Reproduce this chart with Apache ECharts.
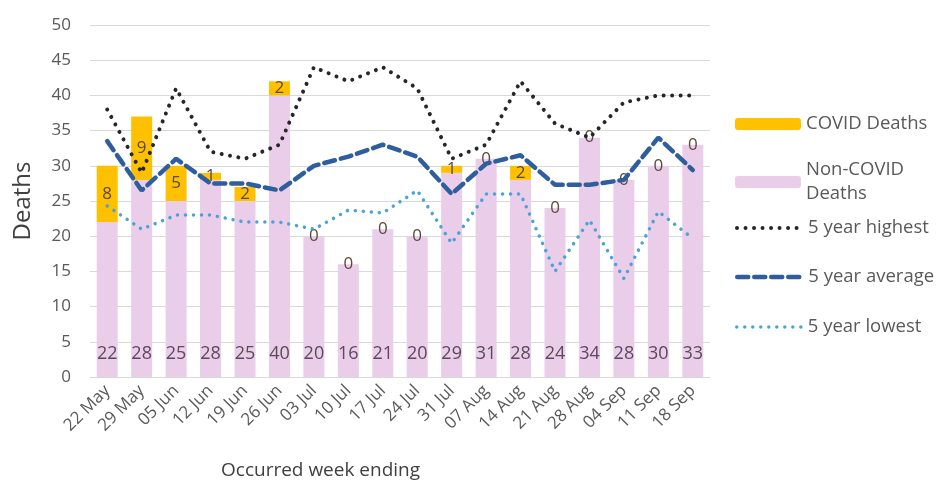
<!DOCTYPE html>
<html>
<head>
<meta charset="utf-8">
<script src="https://cdn.jsdelivr.net/npm/echarts@6/dist/echarts.min.js"></script>
<style>
    html, body { margin: 0; padding: 0; background: #fff; }
    #chart { width: 940px; height: 492px; }
</style>
</head>
<body>
<div id="chart"></div>
<script>
var weeks = ['22 May', '29 May', '05 Jun', '12 Jun', '19 Jun', '26 Jun', '03 Jul', '10 Jul', '17 Jul',
    '24 Jul', '31 Jul', '07 Aug', '14 Aug', '21 Aug', '28 Aug', '04 Sep', '11 Sep', '18 Sep'];
var covidDeaths = [8, 9, 5, 1, 2, 2, 0, 0, 0, 0, 1, 0, 2, 0, 0, 0, 0, 0];
var nonCovidDeaths = [22, 28, 25, 28, 25, 40, 20, 16, 21, 20, 29, 31, 28, 24, 34, 28, 30, 33];
var highest5y = [38, 29, 41, 32, 31, 33, 44, 42, 44, 41, 31, 33, 42, 36, 34, 39, 40, 40];
var average5y = [33.5, 26.5, 31, 27.5, 27.5, 26.5, 30, 31.3, 33, 31.3, 26, 30.3, 31.5, 27.3, 27.3, 28, 34, 29.4];
var lowest5y = [24.3, 21, 23, 23, 22, 22, 21, 23.7, 23.3, 26.5, 19, 26, 26, 15, 22.3, 14, 23.5, 19.7];

var fontFam = 'Open Sans';
var grey = '#595959';

var highStyle = { color: '#262626', width: 4, type: [0.01, 8.5], cap: 'round' };
var avgStyle = { color: '#2E5E9E', width: 4.5, type: [11, 6], cap: 'round' };
var lowStyle = { color: '#4AA3D6', width: 3.5, type: [0.01, 8], cap: 'round' };

function legendAt(name, top, extra) {
    var l = {
        data: [name],
        left: 735,
        top: top,
        padding: 0,
        orient: 'vertical',
        itemWidth: 66,
        itemHeight: 12,
        textStyle: { color: grey, fontSize: 18.5, fontFamily: fontFam, lineHeight: 24 }
    };
    if (extra) {
        for (var k in extra) l[k] = extra[k];
    }
    return l;
}

var chart = echarts.init(document.getElementById('chart'));
var option = {
    animation: false,
    grid: { left: 90, right: 230, top: 25, bottom: 115 },
    legend: [
        legendAt('COVID Deaths', 112),
        legendAt('Non-COVID Deaths', 146, {
            formatter: function () { return 'Non-COVID\nDeaths'; },
            textStyle: { color: grey, fontSize: 18.5, fontFamily: fontFam, lineHeight: 24, padding: [24, 0, 0, 0] }
        }),
        legendAt('5 year highest', 216, { itemStyle: { opacity: 0 }, lineStyle: highStyle }),
        legendAt('5 year average', 265, { itemStyle: { opacity: 0 }, lineStyle: avgStyle }),
        legendAt('5 year lowest', 315, { itemStyle: { opacity: 0 }, lineStyle: lowStyle })
    ],
    xAxis: {
        type: 'category',
        data: weeks,
        axisLine: { lineStyle: { color: '#d9d9d9' } },
        axisTick: { show: false },
        axisLabel: { rotate: 45, color: grey, fontSize: 17, fontFamily: fontFam, margin: 11, interval: 0 }
    },
    yAxis: {
        type: 'value',
        min: 0,
        max: 50,
        interval: 5,
        name: 'Deaths',
        nameLocation: 'middle',
        nameGap: 55,
        nameTextStyle: { color: '#404040', fontSize: 24, fontFamily: fontFam },
        axisLine: { show: false },
        axisTick: { show: false },
        axisLabel: { color: grey, fontSize: 17, fontFamily: fontFam, margin: 19 },
        splitLine: { lineStyle: { color: '#d9d9d9' } }
    },
    graphic: [{
        type: 'text',
        left: 221,
        top: 461,
        style: { text: 'Occurred week ending', fill: '#404040', fontSize: 19, fontFamily: fontFam }
    }],
    series: [
        {
            name: 'Non-COVID Deaths',
            type: 'bar',
            stack: 'deaths',
            barWidth: 21,
            data: nonCovidDeaths,
            itemStyle: { color: '#EACDE9' },
            label: { show: true, position: 'insideBottom', distance: 14, color: '#5a4a5a', fontSize: 18, fontFamily: fontFam }
        },
        {
            name: 'COVID Deaths',
            type: 'bar',
            stack: 'deaths',
            barWidth: 21,
            data: covidDeaths,
            itemStyle: { color: '#FFC000' },
            label: { show: true, position: 'inside', color: '#5a4a3a', fontSize: 17, fontFamily: fontFam }
        },
        {
            name: '5 year highest',
            type: 'line',
            symbol: 'none',
            data: highest5y,
            itemStyle: { color: highStyle.color },
            lineStyle: highStyle
        },
        {
            name: '5 year average',
            type: 'line',
            symbol: 'none',
            data: average5y,
            itemStyle: { color: avgStyle.color },
            lineStyle: avgStyle
        },
        {
            name: '5 year lowest',
            type: 'line',
            symbol: 'none',
            data: lowest5y,
            itemStyle: { color: lowStyle.color },
            lineStyle: lowStyle
        }
    ]
};
chart.setOption(option);
</script>
</body>
</html>
